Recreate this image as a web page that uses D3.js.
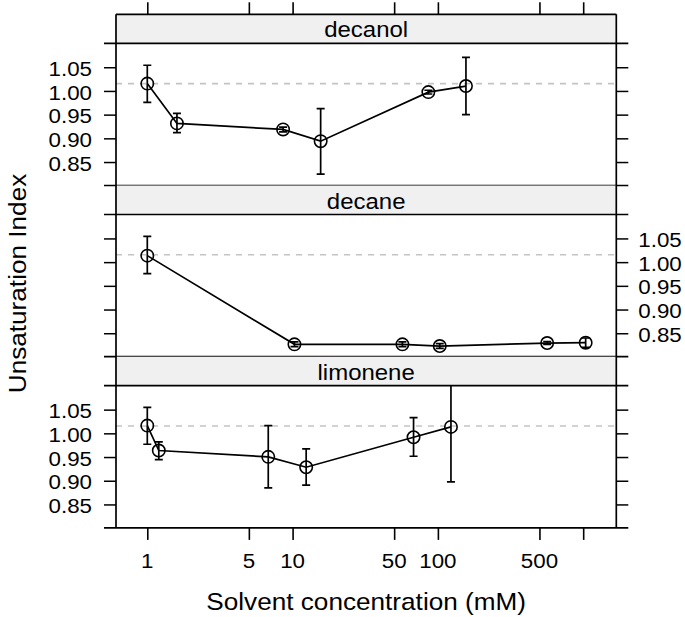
<!DOCTYPE html>
<html><head><meta charset="utf-8">
<script src="https://cdn.jsdelivr.net/npm/d3@7"></script>
<style>body{margin:0;background:#fff}svg{display:block}</style>
</head><body>
<script>
// ---- data ----
const panels = ["decanol", "decane", "limonene"];
const decanolX  = [1, 1.6, 8.6, 15.6, 86, 156];
const decanolY  = [1.0155, 0.9315, 0.9188, 0.894, 0.9975, 1.0103];
const decanolLo = [0.9759, 0.9122, 0.9138, 0.8246, 0.9935, 0.9500];
const decanolHi = [1.0542, 0.9528, 0.9238, 0.9627, 1.0015, 1.0710];
const decaneX  = [1, 10.3, 57, 103, 565, 1040];
const decaneY  = [1.0137, 0.8266, 0.8266, 0.8230, 0.8293, 0.8300];
const decaneLo = [0.9758, 0.8216, 0.8216, 0.8180, 0.8263, 0.8200];
const decaneHi = [1.0543, 0.8316, 0.8316, 0.8280, 0.8323, 0.8400];
const limoneneX  = [1, 1.2, 6.8, 12.4, 68, 123];
const limoneneY  = [1.0163, 0.9637, 0.9504, 0.9285, 0.9917, 1.0136];
const limoneneLo = [0.9770, 0.9447, 0.8851, 0.8906, 0.9517, 0.8978];
const limoneneHi = [1.0548, 0.9820, 1.0163, 0.9672, 1.0331, 1.1300];
const refLine = 1.0155;
const yTicks = [0.85, 0.90, 0.95, 1.00, 1.05];
const xTicks = [1, 5, 10, 50, 100, 500, 1000];
const xTickLabels = ["1", "5", "10", "50", "100", "500", ""];
const xTitle = "Solvent concentration (mM)";
const yTitle = "Unsaturation Index";

const series = {
  decanol: {x: decanolX, y: decanolY, lo: decanolLo, hi: decanolHi},
  decane: {x: decaneX, y: decaneY, lo: decaneLo, hi: decaneHi},
  limonene: {x: limoneneX, y: limoneneY, lo: limoneneLo, hi: limoneneHi}
};

// ---- layout ----
const W = 685, H = 617;
const L = 116, R = 616.3, T = 14.3;
const stripH = 29, plotH = 142.2, panelH = stripH + plotH;
const tick = 12;
const SX = 1.09;
const font = "'Liberation Sans', Arial, Helvetica, sans-serif";

const svg = d3.select("body").append("svg").attr("width", W).attr("height", H)
  .style("font-family", font);

const x = d3.scaleLog().domain([0.609, 1690]).range([L, R]);
const y = d3.scaleLinear().domain([0.8005, 1.1005]).range([plotH, 0]);

function txt(g, px, py, s, size, anchor) {
  return g.append("text").attr("transform", `translate(${px},${py}) scale(${SX},1)`)
    .attr("text-anchor", anchor).attr("font-size", size).attr("fill", "#000").text(s);
}

panels.forEach((name, i) => {
  const top = T + i * panelH;
  const pTop = top + stripH;
  const g = svg.append("g");
  // strip
  g.append("rect").attr("x", L).attr("y", top).attr("width", R - L).attr("height", stripH)
    .attr("fill", "#f0f0f0");
  txt(g, (L + R) / 2, pTop - 6, name, 22, "middle");

  const pg = g.append("g").attr("transform", `translate(0,${pTop})`);
  const clipId = "clip" + i;
  pg.append("clipPath").attr("id", clipId).append("rect")
    .attr("x", L).attr("y", 0).attr("width", R - L).attr("height", plotH);

  // y axes (ticks both sides)
  const la = pg.append("g").attr("transform", `translate(${L},0)`)
    .call(d3.axisLeft(y).tickValues(yTicks).tickSize(tick).tickPadding(0)
      .tickFormat(() => ""));
  const ra = pg.append("g").attr("transform", `translate(${R},0)`)
    .call(d3.axisRight(y).tickValues(yTicks).tickSize(tick).tickPadding(0)
      .tickFormat(() => ""));
  [la, ra].forEach(a => {
    a.select(".domain").remove();
    a.selectAll(".tick line").attr("stroke", "#000").attr("stroke-width", 1.5);
    a.selectAll(".tick text").remove();
  });
  yTicks.forEach(v => {
    if (i !== 1) txt(pg, L - tick - 12, y(v) + 8.6, d3.format(".2f")(v), 20.5, "end");
    else txt(pg, R + tick + 10, y(v) + 8.6, d3.format(".2f")(v), 20.5, "start");
  });

  // reference line
  pg.append("line").attr("x1", L).attr("x2", R).attr("y1", y(refLine)).attr("y2", y(refLine))
    .attr("stroke", "#c4c4c4").attr("stroke-width", 1.6).attr("stroke-dasharray", "6,6");

  // data
  const s = series[name];
  const pts = s.x.map((xv, k) => ({x: xv, y: s.y[k], lo: s.lo[k], hi: s.hi[k]}));
  const dg = pg.append("g").attr("clip-path", `url(#${clipId})`);
  dg.append("path").datum(pts)
    .attr("d", d3.line().x(d => x(d.x)).y(d => y(d.y)))
    .attr("fill", "none").attr("stroke", "#000").attr("stroke-width", 1.7);
  const eb = dg.selectAll(".eb").data(pts).enter().append("g");
  eb.append("line").attr("x1", d => x(d.x)).attr("x2", d => x(d.x))
    .attr("y1", d => y(d.lo)).attr("y2", d => y(d.hi))
    .attr("stroke", "#000").attr("stroke-width", 1.7);
  eb.append("line").attr("x1", d => x(d.x) - 4).attr("x2", d => x(d.x) + 4)
    .attr("y1", d => y(d.lo)).attr("y2", d => y(d.lo))
    .attr("stroke", "#000").attr("stroke-width", 1.7);
  eb.append("line").attr("x1", d => x(d.x) - 4).attr("x2", d => x(d.x) + 4)
    .attr("y1", d => y(d.hi)).attr("y2", d => y(d.hi))
    .attr("stroke", "#000").attr("stroke-width", 1.7);
  dg.selectAll("circle").data(pts).enter().append("circle")
    .attr("cx", d => x(d.x)).attr("cy", d => y(d.y)).attr("r", 6.2)
    .attr("fill", "none").attr("stroke", "#000").attr("stroke-width", 1.6);

  // borders: plot top/bottom extend like ticks
  [0, plotH].forEach(yy => {
    pg.append("line").attr("x1", L - tick).attr("x2", R + tick).attr("y1", yy).attr("y2", yy)
      .attr("stroke", "#000").attr("stroke-width", 1.7);
  });
});

// top strip border
svg.append("line").attr("x1", L).attr("x2", R).attr("y1", T).attr("y2", T)
  .attr("stroke", "#000").attr("stroke-width", 1.7);
// vertical frame
const B = T + 3 * panelH;
[L, R].forEach(xx => svg.append("line").attr("x1", xx).attr("x2", xx).attr("y1", T).attr("y2", B)
  .attr("stroke", "#000").attr("stroke-width", 1.7));

// x axes top and bottom
const ta = svg.append("g").attr("transform", `translate(0,${T})`)
  .call(d3.axisTop(x).tickValues(xTicks).tickSize(tick).tickFormat(() => ""));
const ba = svg.append("g").attr("transform", `translate(0,${B})`)
  .call(d3.axisBottom(x).tickValues(xTicks).tickSize(tick).tickFormat(() => ""));
[ta, ba].forEach(a => {
  a.select(".domain").remove();
  a.selectAll(".tick line").attr("stroke", "#000").attr("stroke-width", 1.6);
  a.selectAll(".tick text").remove();
});
xTicks.forEach((v, k) => {
  if (xTickLabels[k]) txt(svg, x(v), 567.7, xTickLabels[k], 20.5, "middle");
});

// titles
txt(svg, (L + R) / 2, 609.5, xTitle, 24, "middle");
svg.append("text").attr("transform", `translate(26,283.5) rotate(-90) scale(${SX},1)`)
  .attr("text-anchor", "middle").attr("font-size", 24).text(yTitle);
</script>
</body></html>
